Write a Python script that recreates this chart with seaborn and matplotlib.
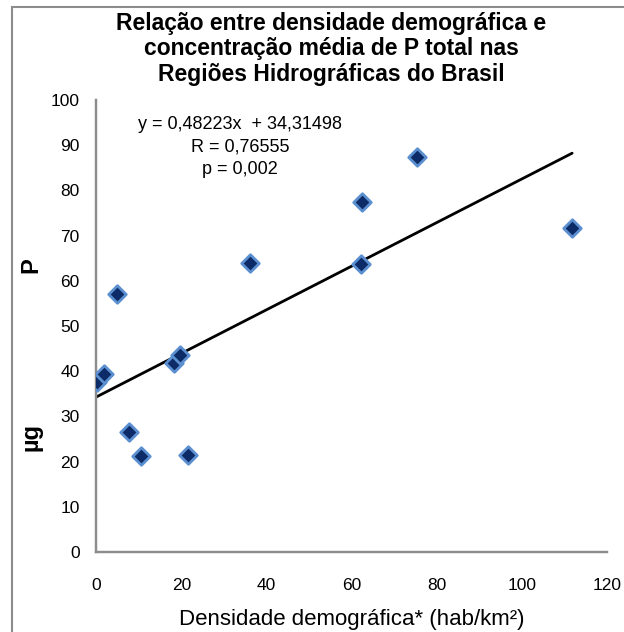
import numpy as np
import pandas as pd
import matplotlib
matplotlib.use("Agg")
import matplotlib.pyplot as plt
import seaborn as sns
from matplotlib.patches import Rectangle

# Dados (densidade demográfica x P total)
densidade = [0.1, 1.8, 4.9, 7.6, 10.5, 18.2, 19.6, 21.5, 36.2, 62.4, 62.2, 75.3, 111.8]
p_total = [37.6, 39.4, 57.1, 26.5, 21.2, 41.8, 43.6, 21.4, 63.9, 77.4, 63.7, 87.4, 71.7]

# Coeficientes da regressão (texto do gráfico)
coef_a = 0.48223
coef_b = 34.31498
texto_eq = ["y = 0,48223x  + 34,31498", "R = 0,76555", "p = 0,002"]

x_ticks = [0, 20, 40, 60, 80, 100, 120]
y_ticks = [0, 10, 20, 30, 40, 50, 60, 70, 80, 90, 100]

df = pd.DataFrame({"densidade": densidade, "p_total": p_total})

sns.set_style("white")
plt.rcParams["font.family"] = ["Liberation Sans", "DejaVu Sans"]
plt.rcParams["text.color"] = "black"
plt.rcParams["axes.labelcolor"] = "black"

fig = plt.figure(figsize=(6.24, 6.32), dpi=100)
ax = fig.add_axes([0.1546, 0.1266, 0.8182, 0.7152])

# Moldura externa (área do gráfico)
fig.patches.append(Rectangle((12 / 624, -0.05), 1.2, 1 - 7 / 632 + 0.05,
                             transform=fig.transFigure, fill=False,
                             edgecolor="#8c8c8c", linewidth=1.5))

# Linha de tendência
x_linha = np.array([0, max(densidade)])
ax.plot(x_linha, coef_a * x_linha + coef_b, color="black", linewidth=2, zorder=2)

sns.scatterplot(data=df, x="densidade", y="p_total", ax=ax, marker="D", s=80,
                color="#0d2b66", edgecolor="#5b8fd0", linewidth=2, zorder=3)

ax.set_xlim(0, 120)
ax.set_ylim(0, 100)
ax.set_xticks(x_ticks)
ax.set_yticks(y_ticks)
ax.tick_params(axis="both", labelsize=12.5, colors="#8c8c8c", labelcolor="black",
               length=5, width=1.75, direction="out")
ax.tick_params(axis="x", pad=14)
ax.tick_params(axis="y", pad=7)
for lado in ["top", "right"]:
    ax.spines[lado].set_visible(False)
for lado in ["left", "bottom"]:
    ax.spines[lado].set_color("#8c8c8c")
    ax.spines[lado].set_linewidth(1.75)

ax.set_xlabel("Densidade demográfica* (hab/km²)", fontsize=16, labelpad=11)
ax.set_ylabel("")

for i, t in enumerate(texto_eq):
    ax.text(0.281, 0.945 - i * 0.049, t, transform=ax.transAxes,
            ha="center", va="center", fontsize=13)

fig.text(0.531, 1 - 49 / 632, "Relação entre densidade demográfica e\n"
         "concentração média de P total nas\nRegiões Hidrográficas do Brasil",
         ha="center", va="center", fontsize=16.5, fontweight="bold",
         multialignment="center", linespacing=1.12)

# Rótulo do eixo y (aparece truncado no original)
fig.text(0.05, 1 - 265 / 632, "P", rotation=90, ha="center", va="center",
         fontsize=17, fontweight="bold")
fig.text(0.05, 1 - 437 / 632, "µg", rotation=90, ha="center", va="center",
         fontsize=17, fontweight="bold")

fig.savefig("out.png", dpi=100)
